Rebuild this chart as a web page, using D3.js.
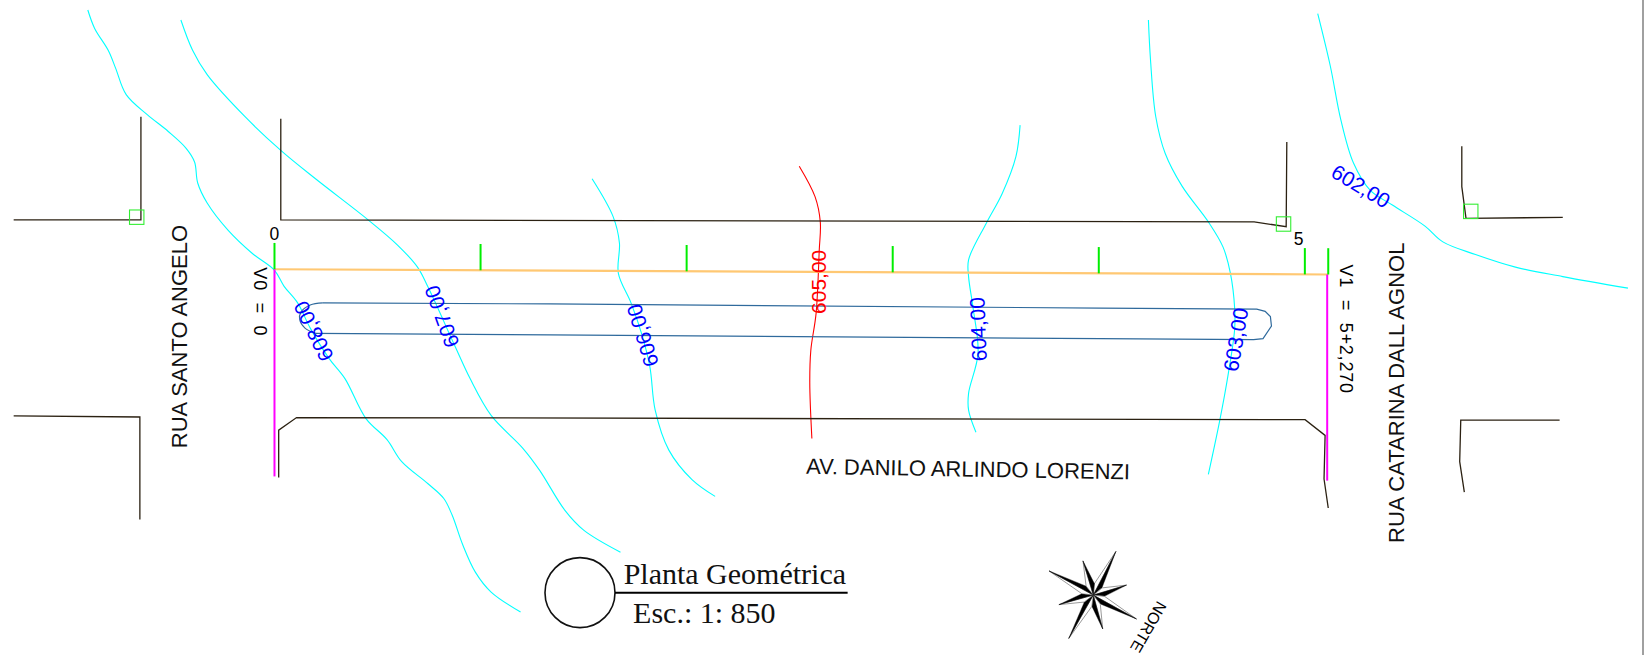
<!DOCTYPE html>
<html>
<head>
<meta charset="utf-8">
<script src="https://cdn.jsdelivr.net/npm/d3@7"></script>
<style>
  html, body { margin: 0; padding: 0; background: #fff; overflow: hidden; }
  svg { display: block; }
  text { font-family: "Liberation Sans", Arial, sans-serif; white-space: pre; }
  .serif { font-family: "Liberation Serif", "Times New Roman", serif; }
</style>
</head>
<body>
<div id="planta"></div>
<script>
// contour lines, plan units
const contour608 = [[83.5,9.5],[90,27],[103,48],[110,65],[120,90],[140,109],[160,125],[177,141],[185,154],[188,174],[197,193],[217,219],[240,241],[261,257],[270,272],[283,288],[295,312],[313,341],[328,360],[348,398],[368,418],[382,439],[407,460],[422,474],[430,490],[440,518],[452,544],[467,563],[495,582]];
const contour607 = [[172,19],[183,47.5],[197,71],[233,111],[267,143],[300,170],[350,209],[378,233],[397,254],[407,273],[433,330],[447,360],[467,395],[497,426],[513,447],[537,485],[555,504],[590,525]];
const contour606 = [[563,170],[583,206],[589,231],[588,260],[600,288],[610,317],[618,349],[623,390],[636,428],[658,456],[680,472]];
const contour605 = [[760,158],[775,187],[780,211],[779,238],[776,298],[771,333],[770,364],[772,417]];
const contour604 = [[970,119],[966,149],[953,184],[938,212],[921,247],[921,263],[925,291],[930,336],[921,374],[921,390],[928,411]];
const contour603 = [[1092,19],[1094,57],[1099,111],[1108,146],[1124,177],[1149,211],[1163,235],[1170,260],[1174,293],[1174,313],[1168,355],[1160,399],[1149,451]];
const contour602 = [[1253,13],[1265,63],[1275,114],[1287,155],[1303,181],[1324,195],[1355,215],[1372,230],[1403,242],[1441,254],[1486,263],[1548,274]];

// street edges
const kerbNW = [[13,209],[134,209],[134,111]];
const kerbSW = [[13,395.5],[133,396.5],[133,494]];
const kerbTop = [[267,113],[267,209],[1192.5,211],[1223,215.5],[1223.6,135]];
const kerbBottom = [[265,454],[265,409],[282,397],[1241,399],[1260,414],[1259,455.5],[1263,483]];
const kerbNE = [[1390,139],[1390,177.5],[1394,207.6],[1486,206.7]];
const kerbSE = [[1483,399.5],[1389,399.5],[1388,439],[1392.4,468]];

// platform outline
const platformTop = [[307,288],[523,289],[1046,293],[1195,294],[1203,296],[1208,301],[1209,310],[1201,322],[1192,323],[1046,322],[523,318.5],[300,317]];
const platformCapStart = [[300,317],[290,312],[285,304],[286,297],[295,290],[307,288]];

// stakes along the centre line, metres
const stakes = [0, 20, 40, 60, 80, 100, 102.27];
const stakeLabels = [{m: 0, text: "0"}, {m: 100, text: "5"}];
const centreStart = [261, 256];
const centreEnd = [1263, 261];

const sectionLines = [[[261,256],[261,453]], [[1262,261],[1262,457]]];
const markerSquares = [[130,206.5],[1220.5,213],[1398.5,201]];

const contourLabels = [
  {text: "608,00", at: [298,315], angle: -116, color: "#0000ff"},
  {text: "607,00", at: [420,301], angle: -110, color: "#0000ff"},
  {text: "606,00", at: [611,319], angle: -107, color: "#0000ff"},
  {text: "605,00", at: [778,268], angle: -90, color: "#ff0000"},
  {text: "604,00", at: [930,313], angle: -92, color: "#0000ff"},
  {text: "603,00", at: [1175,323], angle: -80.5, color: "#0000ff"},
  {text: "602,00", at: [1294,177], angle: 31, color: "#0000ff"}
];
const streetNames = [
  {text: "RUA SANTO ANGELO", at: [171,320], angle: -90},
  {text: "RUA CATARINA DALL AGNOL", at: [1328,373.5], angle: -90},
  {text: "AV. DANILO ARLINDO LORENZI", at: [920.5,446], angle: 1}
];
const alignLabels = [
  {text: "V0  =  0", at: [247,287], angle: 90},
  {text: "V1  =  5+2,270", at: [1280,313], angle: 90}
];

// north star
const compassCentre = [1039.6, 565.8];
const rayBearing = [27.4, 73.3, 119, 164.5, 209.5, 254.4, 298.6, 343.2];
const rayLength = [46.8, 33, 47, 33.5, 47.5, 34, 48, 34];

const width = 1649, height = 655;
const x = d3.scaleLinear().domain([0, 1568]).range([0, width]);
const y = d3.scaleLinear().domain([0, 622.8]).range([0, height]);
const line = d3.line().x(d => x(d[0])).y(d => y(d[1]));
const smooth = d3.line().x(d => x(d[0])).y(d => y(d[1])).curve(d3.curveCatmullRom.alpha(0.5));

const svg = d3.select("#planta").append("svg")
  .attr("width", width)
  .attr("height", height);

// sheet edge
svg.append("line")
  .attr("x1", 1643).attr("x2", 1643)
  .attr("y1", 0).attr("y2", height)
  .attr("stroke", "#808080").attr("stroke-width", 1.5);

const contours = [contour608, contour607, contour606, contour604, contour603, contour602];
svg.selectAll("path.contour")
  .data(contours)
  .enter()
  .append("path")
  .attr("class", "contour")
  .attr("d", smooth)
  .attr("fill", "none")
  .attr("stroke", "#00ffff")
  .attr("stroke-width", 1.1);

svg.append("path")
  .attr("d", smooth(contour605))
  .attr("fill", "none")
  .attr("stroke", "#ff0000")
  .attr("stroke-width", 1.1);

const kerbs = [kerbNW, kerbSW, kerbTop, kerbBottom, kerbNE, kerbSE];
svg.selectAll("path.kerb")
  .data(kerbs)
  .enter()
  .append("path")
  .attr("class", "kerb")
  .attr("d", line)
  .attr("fill", "none")
  .attr("stroke", "#2b2112")
  .attr("stroke-width", 1.3);

const platform = svg.append("g")
  .attr("fill", "none")
  .attr("stroke", "#2f6a9c")
  .attr("stroke-width", 1.2);
platform.append("path").attr("d", line(platformTop));
platform.append("path").attr("d", smooth(platformCapStart));

// centre line and stakes
const stakeX = d3.scaleLinear().domain([0, 102.27]).range([centreStart[0], centreEnd[0]]);
const stakeY = d3.scaleLinear().domain([0, 102.27]).range([centreStart[1], centreEnd[1]]);

svg.append("path")
  .attr("d", line([centreStart, centreEnd]))
  .attr("stroke", "#ffc873")
  .attr("stroke-width", 2.2);

svg.selectAll("line.section")
  .data(sectionLines)
  .enter()
  .append("line")
  .attr("class", "section")
  .attr("x1", d => x(d[0][0])).attr("y1", d => y(d[0][1]))
  .attr("x2", d => x(d[1][0])).attr("y2", d => y(d[1][1]))
  .attr("stroke", "#ff00ff")
  .attr("stroke-width", 2);

svg.selectAll("line.stake")
  .data(stakes)
  .enter()
  .append("line")
  .attr("class", "stake")
  .attr("x1", d => x(stakeX(d))).attr("x2", d => x(stakeX(d)))
  .attr("y1", d => y(stakeY(d))).attr("y2", d => y(stakeY(d) - 25))
  .attr("stroke", "#00ee00")
  .attr("stroke-width", 2);

svg.selectAll("text.stake")
  .data(stakeLabels)
  .enter()
  .append("text")
  .attr("class", "stake")
  .attr("x", d => x(stakeX(d.m) + (d.m ? -6 : 0)))
  .attr("y", d => y(stakeY(d.m) - 28))
  .attr("text-anchor", "middle")
  .attr("font-size", 17.5)
  .attr("fill", "#000")
  .text(d => d.text);

svg.selectAll("rect.marker")
  .data(markerSquares)
  .enter()
  .append("rect")
  .attr("class", "marker")
  .attr("x", d => x(d[0]) - 7.2)
  .attr("y", d => y(d[1]) - 7.2)
  .attr("width", 14.4)
  .attr("height", 14.4)
  .attr("fill", "none")
  .attr("stroke", "#33ee33")
  .attr("stroke-width", 1.1);

// rotated labels
function rotated(sel) {
  return sel
    .attr("transform", d => "translate(" + x(d.at[0]) + "," + y(d.at[1]) + ") rotate(" + d.angle + ")")
    .attr("text-anchor", "middle")
    .attr("dominant-baseline", "central")
    .text(d => d.text);
}

rotated(svg.selectAll("text.contour").data(contourLabels).enter().append("text")
  .attr("class", "contour")
  .attr("font-size", 21)
  .attr("fill", d => d.color));

rotated(svg.selectAll("text.street").data(streetNames).enter().append("text")
  .attr("class", "street")
  .attr("font-size", 22)
  .attr("fill", "#111"));

rotated(svg.selectAll("text.align").data(alignLabels).enter().append("text")
  .attr("class", "align")
  .attr("font-size", 18)
  .attr("letter-spacing", 0.8)
  .attr("fill", "#000"));

// title block
const titleCentre = [551.5, 563.5];
svg.append("circle")
  .attr("cx", x(titleCentre[0])).attr("cy", y(titleCentre[1]))
  .attr("r", 35)
  .attr("fill", "none")
  .attr("stroke", "#111")
  .attr("stroke-width", 1.6);
svg.append("line")
  .attr("x1", x(584.8)).attr("x2", x(806))
  .attr("y1", y(563.5)).attr("y2", y(563.5))
  .attr("stroke", "#000")
  .attr("stroke-width", 2);
svg.append("text").attr("class", "serif")
  .attr("x", x(593)).attr("y", y(555.5))
  .attr("font-size", 30).attr("fill", "#111")
  .text("Planta Geométrica");
svg.append("text").attr("class", "serif")
  .attr("x", x(602)).attr("y", y(592))
  .attr("font-size", 30).attr("fill", "#111")
  .text("Esc.: 1: 850");

// north star, each ray is a black half and a white half
const star = svg.append("g")
  .attr("transform", "translate(" + x(compassCentre[0]) + "," + y(compassCentre[1]) + ")");
const polar = (bearing, r) => {
  const a = (bearing - 90) * Math.PI / 180;
  return [r * Math.cos(a), r * Math.sin(a)];
};
rayBearing.forEach((b, i) => {
  const tip = polar(b, rayLength[i] * 1.05);
  const cw = polar(b + 22, 11.5);
  const ccw = polar(b - 22, 11.5);
  star.append("path")
    .attr("d", "M0,0L" + ccw + "L" + tip + "Z")
    .attr("fill", "#fff").attr("stroke", "#555").attr("stroke-width", 0.6);
  star.append("path")
    .attr("d", "M0,0L" + cw + "L" + tip + "Z")
    .attr("fill", "#000").attr("stroke", "#000").attr("stroke-width", 0.4);
});

svg.append("text")
  .attr("transform", "translate(" + x(1092) + "," + y(596) + ") rotate(120)")
  .attr("text-anchor", "middle")
  .attr("dominant-baseline", "central")
  .attr("font-size", 16)
  .attr("fill", "#000")
  .text("NORTE");
</script>
</body>
</html>
